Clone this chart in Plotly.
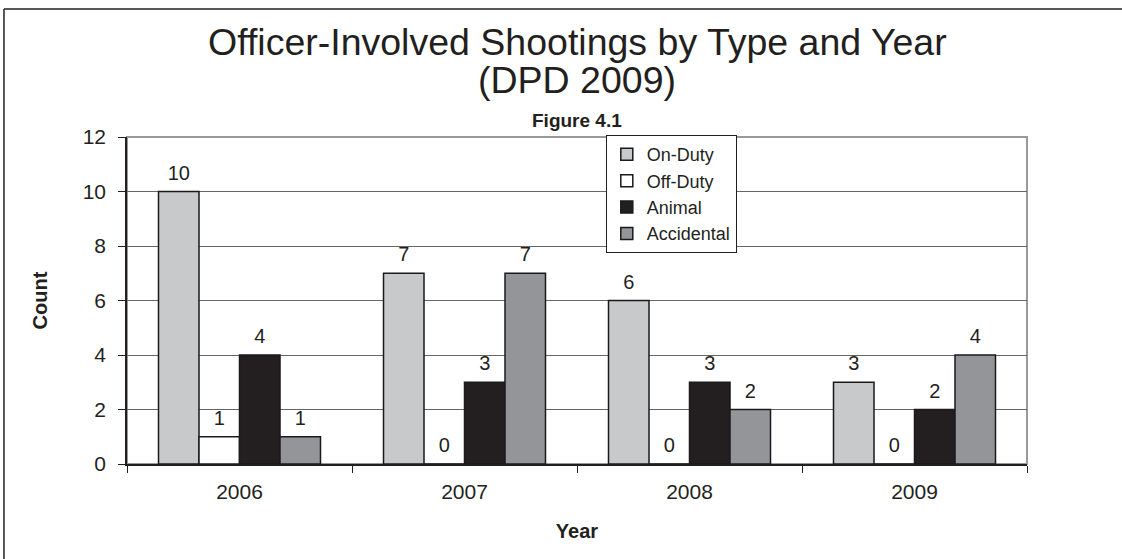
import plotly.graph_objects as go

years = ["2006", "2007", "2008", "2009"]
series_names = ["On-Duty", "Off-Duty", "Animal", "Accidental"]
on_duty = [10, 7, 6, 3]
off_duty = [1, 0, 0, 0]
animal = [4, 3, 3, 2]
accidental = [1, 7, 2, 4]
colors = ["#c8c9cb", "#ffffff", "#231f20", "#939598"]

values = [on_duty, off_duty, animal, accidental]
FONT = "Liberation Sans, Arial, sans-serif"
INK = "#231f20"

fig = go.Figure()
for name, vals, col in zip(series_names, values, colors):
    fig.add_trace(go.Bar(
        x=years, y=vals, name=name,
        marker=dict(color=col, line=dict(color="#1a1a1a", width=1.5)),
        text=[str(v) for v in vals],
        texttemplate="<span style='font-size:20px'>%{text}</span><br> ",
        textposition="outside",
        constraintext="none",
        cliponaxis=False,
        textfont=dict(size=6, color=INK, family=FONT),
    ))

fig.update_layout(
    width=1122, height=559,
    margin=dict(l=127, r=95, t=137, b=95),
    paper_bgcolor="white", plot_bgcolor="white",
    barmode="group", bargap=0.28, bargroupgap=0,
    font=dict(family=FONT, color=INK),
    showlegend=True,
    legend=dict(
        x=0.532, y=1.006, xanchor="left", yanchor="top",
        bordercolor=INK, borderwidth=1, bgcolor="white",
        font=dict(size=18), itemwidth=30, tracegroupgap=0,
    ),
    annotations=[
        dict(text="Officer-Involved Shootings by Type and Year",
             xref="paper", yref="paper", x=0.5, y=(464 - 42) / 327,
             xanchor="center", yanchor="middle", showarrow=False,
             font=dict(size=37.5, color=INK)),
        dict(text="(DPD 2009)",
             xref="paper", yref="paper", x=0.5, y=(464 - 80) / 327,
             xanchor="center", yanchor="middle", showarrow=False,
             font=dict(size=37.5, color=INK)),
        dict(text="<b>Figure 4.1</b>", xref="paper", yref="paper",
             x=0.5, y=(464 - 120) / 327, xanchor="center", yanchor="middle",
             showarrow=False, font=dict(size=19, color=INK)),
    ],
    shapes=[
        dict(type="line", xref="paper", yref="paper", x0=-0.1367, x1=1.2,
             y0=1.3914, y1=1.3914, line=dict(color=INK, width=1.5)),
        dict(type="line", xref="paper", yref="paper", x0=-0.1367, x1=-0.1367,
             y0=1.3914, y1=-0.35, line=dict(color=INK, width=1.5)),
        dict(type="rect", xref="paper", yref="paper", x0=0, x1=1, y0=0, y1=1,
             line=dict(color="#999999", width=2), layer="below"),
    ],
)

fig.update_yaxes(
    range=[0, 12], dtick=2, showgrid=True, gridcolor="#666666", gridwidth=1,
    ticks="outside", ticklen=7, tickcolor=INK, ticklabelstandoff=8,
    showline=True, linecolor=INK, linewidth=1.5,
    tickfont=dict(size=21), zeroline=False,
    title=dict(text="<b>Count</b>", font=dict(size=20), standoff=30),
)
fig.update_xaxes(
    type="category", tickson="boundaries", ticks="outside", ticklen=7,
    tickcolor=INK, ticklabelstandoff=8, showline=True, linecolor=INK, linewidth=1.5,
    tickfont=dict(size=21), showgrid=False,
    title=dict(text="<b>Year</b>", font=dict(size=20), standoff=22),
)

fig.write_html("out.html", config={"displayModeBar": False},
               post_script="document.body.style.margin='0';document.body.style.padding='0';")
